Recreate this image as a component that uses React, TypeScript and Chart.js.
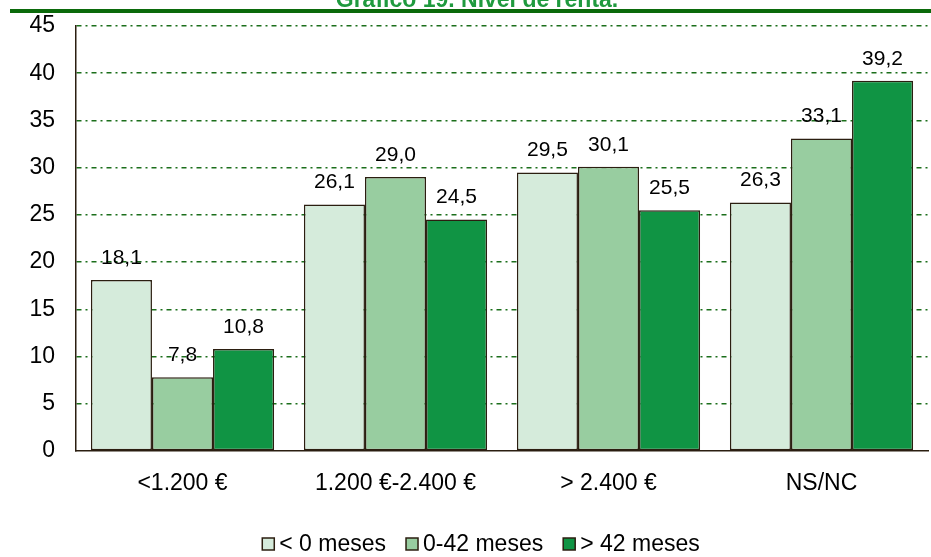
import React, { useEffect, useRef } from "react";
import { Chart, registerables } from "chart.js";

Chart.register(...registerables);

const chartTitle = "Gráfico 19. Nivel de renta.";
const categories = ["<1.200 €", "1.200 €-2.400 €", "> 2.400 €", "NS/NC"];
const seriesNames = ["< 0 meses", "0-42 meses", "> 42 meses"];
const lessThan0 = [18.1, 26.1, 29.5, 26.3];
const from0to42 = [7.8, 29.0, 30.1, 33.1];
const moreThan42 = [10.8, 24.5, 25.5, 39.2];
const yMin = 0;
const yMax = 45;
const yStep = 5;

const FONT = "'Liberation Sans', Arial, sans-serif";
const COLORS = ["#d5ebdb", "#98cda0", "#109444"];
const BORDER = "#2b1e10";
const GRID = "#1b6e1b";

const fmt = (v: number) => v.toFixed(1).replace(".", ",");

const decor = {
  id: "decor",
  afterDatasetsDraw(chart: any) {
    const ctx = chart.ctx;
    ctx.save();
    ctx.font = `21px ${FONT}`;
    ctx.fillStyle = "#000";
    ctx.textAlign = "center";
    ctx.textBaseline = "middle";
    chart.data.datasets.forEach((ds: any, i: number) => {
      const meta = chart.getDatasetMeta(i);
      meta.data.forEach((el: any, j: number) => {
        ctx.fillText(fmt(ds.data[j]), el.x, el.y - 22);
      });
    });
    ctx.restore();
  },
  afterDraw(chart: any) {
    const ctx = chart.ctx;
    const W = chart.width;
    ctx.save();
    // title (cut at top)
    ctx.font = `bold 23px ${FONT}`;
    ctx.fillStyle = "#1f9a3e";
    ctx.textAlign = "center";
    ctx.textBaseline = "alphabetic";
    ctx.fillText(chartTitle, 477, 7);
    // green rule
    ctx.fillStyle = "#0b6a0b";
    ctx.fillRect(10, 9, W - 10, 4);
    // legend
    ctx.font = `23px ${FONT}`;
    ctx.textAlign = "left";
    ctx.textBaseline = "middle";
    const box = 12;
    const gapText = 5;
    const gapItem = 20;
    const items = chart.data.datasets.map((ds: any) => ({
      label: ds.label,
      color: ds.backgroundColor,
      w: ctx.measureText(ds.label).width,
    }));
    const total =
      items.reduce((s: number, it: any) => s + box + gapText + it.w, 0) +
      gapItem * (items.length - 1);
    let x = 481 - total / 2;
    const cy = 544;
    items.forEach((it: any) => {
      ctx.fillStyle = it.color;
      ctx.fillRect(x, cy - box / 2, box, box);
      ctx.strokeStyle = BORDER;
      ctx.lineWidth = 1.5;
      ctx.strokeRect(x, cy - box / 2, box, box);
      ctx.fillStyle = "#000";
      ctx.fillText(it.label, x + box + gapText, cy + 1);
      x += box + gapText + it.w + gapItem;
    });
    ctx.restore();
  },
};

export default function App() {
  const ref = useRef<HTMLCanvasElement>(null);
  useEffect(() => {
    if (!ref.current) return;
    const series = [lessThan0, from0to42, moreThan42];
    const chart = new Chart(ref.current, {
      type: "bar",
      data: {
        labels: categories,
        datasets: series.map((d, i) => ({
          label: seriesNames[i],
          data: d,
          backgroundColor: COLORS[i],
          borderColor: BORDER,
          borderWidth: 1.5,
          borderSkipped: false,
          categoryPercentage: 0.86,
          barPercentage: 1.0,
        })),
      },
      options: {
        responsive: false,
        animation: false,
        layout: { padding: { top: 26, right: 3, left: 0, bottom: 0 } },
        plugins: {
          legend: { display: false },
          title: { display: false },
          tooltip: { enabled: false },
        },
        scales: {
          x: {
            grid: { display: false, drawTicks: false },
            border: { display: true, color: BORDER, width: 1.5 },
            ticks: {
              color: "#000",
              font: { family: FONT, size: 23 },
              padding: 19,
              maxRotation: 0,
            },
            afterFit: (s: any) => {
              s.height = 106;
            },
          },
          y: {
            min: yMin,
            max: yMax,
            grid: {
              drawTicks: true,
              tickLength: 21,
              tickColor: "rgba(0,0,0,0)",
              color: (c: any) => (c.tick && c.tick.value === 0 ? "rgba(0,0,0,0)" : GRID),
              lineWidth: 1.5,
            },
            border: { display: true, color: BORDER, width: 1.5, dash: [5, 4, 2, 4] },
            ticks: {
              stepSize: yStep,
              color: "#000",
              font: { family: FONT, size: 23 },
              padding: 0,
            },
            afterFit: (s: any) => {
              s.width = 76;
            },
          },
        },
      },
      plugins: [decor],
    } as any);
    return () => chart.destroy();
  }, []);
  return (
    <div style={{ position: "absolute", left: 0, top: 0, width: 931, height: 557, background: "#fff" }}>
      <canvas ref={ref} width={931} height={557} style={{ width: 931, height: 557, display: "block" }} />
    </div>
  );
}
